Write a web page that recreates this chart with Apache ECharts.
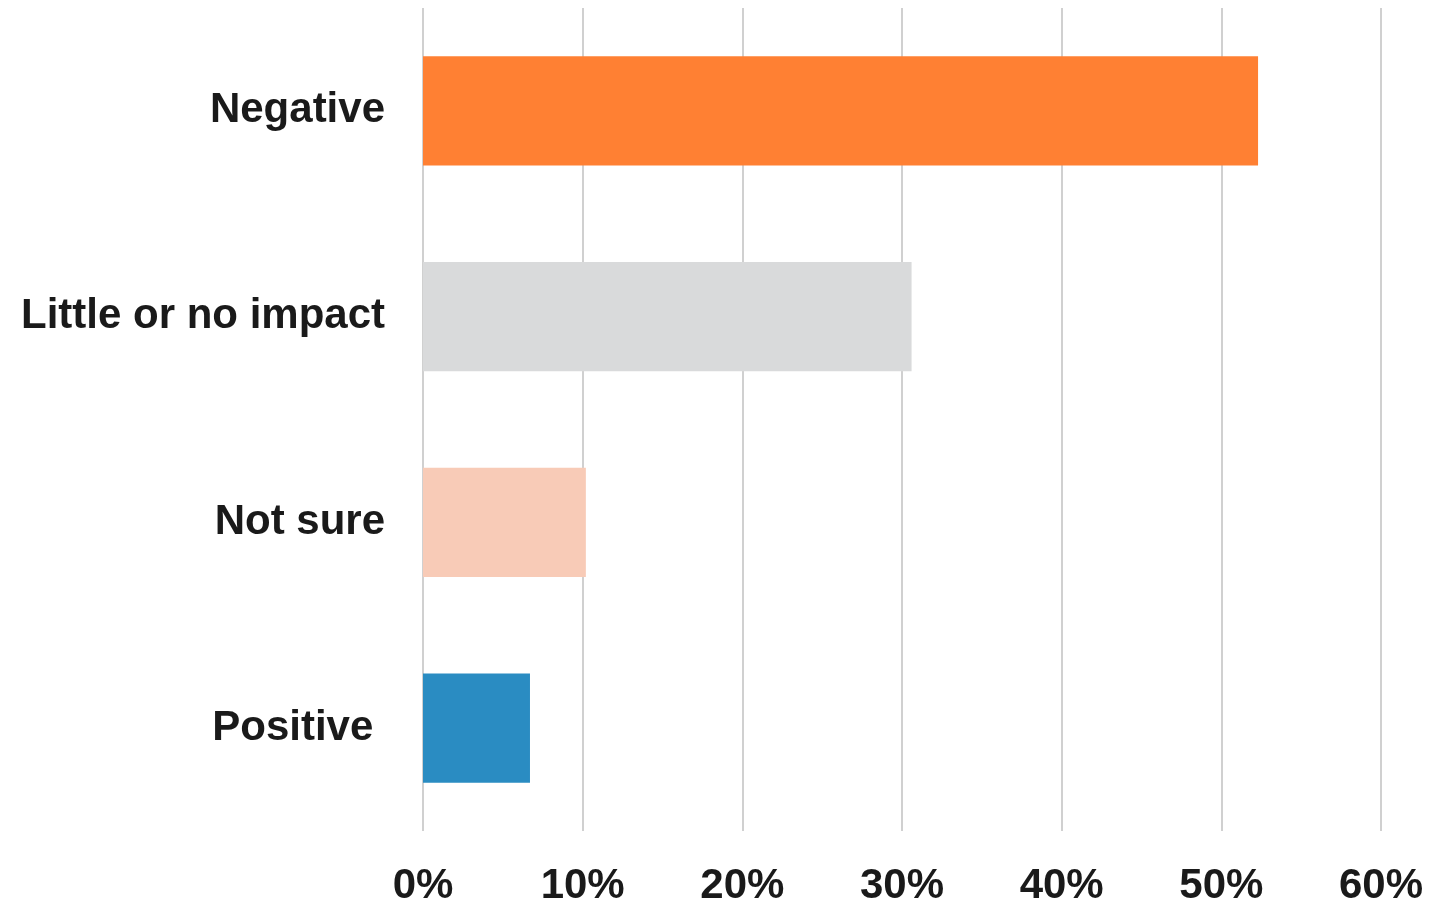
<!DOCTYPE html>
<html>
<head>
<meta charset="utf-8">
<script src="https://cdn.jsdelivr.net/npm/echarts@6/dist/echarts.min.js"></script>
<style>
  html, body { margin: 0; padding: 0; background: #ffffff; }
  #chart { width: 1450px; height: 907px; }
</style>
</head>
<body>
<div id="chart"></div>
<script>
// Survey responses: perceived impact, share of respondents (%)
const categories = ['Negative', 'Little or no impact', 'Not sure', 'Positive '];
const shares = [52.3, 30.6, 10.2, 6.7];
const barColors = ['#FF8033', '#D9DADB', '#F8CBB7', '#2A8CC2'];
const xTicks = { min: 0, max: 60, step: 10 };

const FONT = '"Liberation Sans", Arial, Helvetica, sans-serif';

const chart = echarts.init(document.getElementById('chart'), null, { renderer: 'canvas' });

chart.setOption({
  animation: false,
  backgroundColor: '#ffffff',
  grid: { left: 423, right: 69, top: 8, bottom: 72, containLabel: false },
  xAxis: {
    type: 'value',
    min: xTicks.min,
    max: xTicks.max,
    interval: xTicks.step,
    axisLine: { show: false },
    axisTick: { show: false },
    splitLine: { show: true, lineStyle: { color: '#D0D0D0', width: 2 } },
    axisLabel: {
      formatter: '{value}%',
      margin: 34,
      color: '#1A1A1A',
      fontFamily: FONT,
      fontWeight: 'bold',
      fontSize: 42
    }
  },
  yAxis: {
    type: 'category',
    inverse: true,
    data: categories,
    axisLine: { show: false },
    axisTick: { show: false },
    splitLine: { show: false },
    axisLabel: {
      margin: 38,
      padding: [8, 0, 0, 0],
      color: '#1A1A1A',
      fontFamily: FONT,
      fontWeight: 'bold',
      fontSize: 42
    }
  },
  series: [{
    type: 'bar',
    data: shares.map((v, i) => ({ value: v, itemStyle: { color: barColors[i] } })),
    barWidth: '53%',
    silent: true
  }]
});
</script>
</body>
</html>
